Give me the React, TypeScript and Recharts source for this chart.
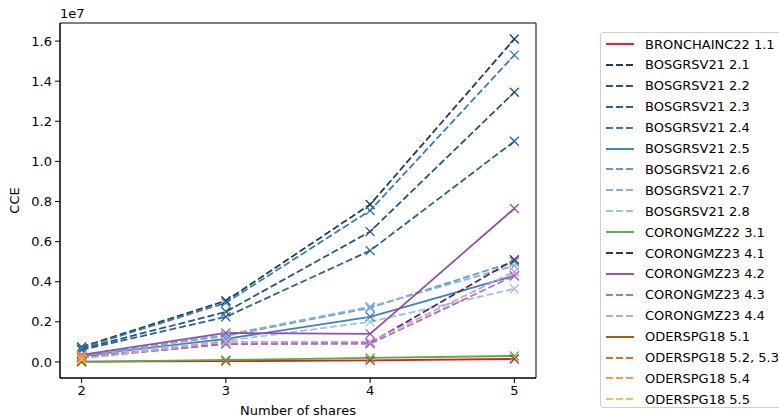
import React from 'react';
import { LineChart, Line, XAxis, YAxis, ReferenceArea } from 'recharts';

const shares = [2, 3, 4, 5];
const xTicks = [2, 3, 4, 5];
const yTicks = [0, 2e6, 4e6, 6e6, 8e6, 1e7, 1.2e7, 1.4e7, 1.6e7];

const bronchainc22_11 = [20000, 40000, 80000, 150000];
const bosgrsv21_21 = [750000, 3050000, 7850000, 16100000];
const bosgrsv21_22 = [650000, 2500000, 6500000, 13450000];
const bosgrsv21_23 = [600000, 2250000, 5550000, 11000000];
const bosgrsv21_24 = [700000, 2950000, 7550000, 15300000];
const bosgrsv21_25 = [300000, 1150000, 2250000, 4300000];
const bosgrsv21_26 = [350000, 1300000, 2700000, 5000000];
const bosgrsv21_27 = [350000, 1350000, 2750000, 4800000];
const bosgrsv21_28 = [300000, 1050000, 2000000, 3650000];
const corongmz22_31 = [0, 100000, 200000, 300000];
const corongmz23_41 = [250000, 900000, 950000, 5100000];
const corongmz23_42 = [350000, 1450000, 1400000, 7650000];
const corongmz23_43 = [200000, 900000, 900000, 4300000];
const corongmz23_44 = [200000, 1000000, 1000000, 4500000];
const oderspg18_51 = [50000];
const oderspg18_52 = [200000];
const oderspg18_54 = [300000];
const oderspg18_55 = [120000];

type S = { name: string; values: number[]; color: string; dash?: string };

const series: S[] = [
  { name: 'BRONCHAINC22 1.1', values: bronchainc22_11, color: '#e41a1c' },
  { name: 'BOSGRSV21 2.1', values: bosgrsv21_21, color: '#1e3d5c', dash: '7 3' },
  { name: 'BOSGRSV21 2.2', values: bosgrsv21_22, color: '#2a5478', dash: '7 3' },
  { name: 'BOSGRSV21 2.3', values: bosgrsv21_23, color: '#2b6192', dash: '7 3' },
  { name: 'BOSGRSV21 2.4', values: bosgrsv21_24, color: '#3a7ab6', dash: '7 3' },
  { name: 'BOSGRSV21 2.5', values: bosgrsv21_25, color: '#3f80bd' },
  { name: 'BOSGRSV21 2.6', values: bosgrsv21_26, color: '#5f9bd0', dash: '7 3' },
  { name: 'BOSGRSV21 2.7', values: bosgrsv21_27, color: '#86b3dc', dash: '7 3' },
  { name: 'BOSGRSV21 2.8', values: bosgrsv21_28, color: '#9dc1e3', dash: '7 3' },
  { name: 'CORONGMZ22 3.1', values: corongmz22_31, color: '#4daf4a' },
  { name: 'CORONGMZ23 4.1', values: corongmz23_41, color: '#4e2a57', dash: '7 3' },
  { name: 'CORONGMZ23 4.2', values: corongmz23_42, color: '#984ea3' },
  { name: 'CORONGMZ23 4.3', values: corongmz23_43, color: '#b06ec0', dash: '7 3' },
  { name: 'CORONGMZ23 4.4', values: corongmz23_44, color: '#c9a2d3', dash: '7 3' },
  { name: 'ODERSPG18 5.1', values: oderspg18_51, color: '#a0520f' },
  { name: 'ODERSPG18 5.2, 5.3', values: oderspg18_52, color: '#e2700f', dash: '7 3' },
  { name: 'ODERSPG18 5.4', values: oderspg18_54, color: '#ff9a3c', dash: '7 3' },
  { name: 'ODERSPG18 5.5', values: oderspg18_55, color: '#ffb56e', dash: '7 3' },
];

const FONT = 'DejaVu Sans, sans-serif';
const FS = 13;

const makeDot = (color: string) => (props: any) => {
  const { cx, cy, index } = props;
  if (cx == null || cy == null) return <g key={index} />;
  const r = 4.5;
  return (
    <path
      key={index}
      d={`M${cx - r},${cy - r}L${cx + r},${cy + r}M${cx - r},${cy + r}L${cx + r},${cy - r}`}
      stroke={color}
      strokeWidth={1.3}
      fill="none"
    />
  );
};

const LegendBox = () => (
  <div
    style={{
      position: 'absolute',
      left: 600,
      top: 32,
      width: 200,
      height: 376,
      border: '1px solid #d0d0d0',
      borderRadius: 3,
      background: 'rgba(255,255,255,0.8)',
      boxSizing: 'border-box',
      fontFamily: FONT,
      fontSize: FS,
      color: '#000',
    }}
  >
    {series.map((s, i) => (
      <div
        key={s.name}
        style={{ position: 'absolute', left: 0, top: 1 + i * 20.9, height: 20, display: 'flex', alignItems: 'center', whiteSpace: 'nowrap' }}
      >
        <svg width={44} height={20} style={{ display: 'block' }}>
          <line x1={5} x2={33} y1={10} y2={10} stroke={s.color} strokeWidth={1.9} strokeDasharray={s.dash} />
        </svg>
        <span>{s.name}</span>
      </div>
    ))}
  </div>
);

export default function App() {
  return (
    <div style={{ position: 'absolute', left: 0, top: 0, width: 779, height: 418, overflow: 'hidden', background: '#fff' }}>
      <LineChart width={779} height={418} margin={{ top: 23, right: 243, bottom: 0, left: 0 }}>
        <XAxis
          dataKey="x"
          type="number"
          domain={[1.85, 5.15]}
          ticks={xTicks}
          allowDataOverflow
          height={40}
          stroke="#000"
          tickSize={5}
          tickMargin={3}
          tick={{ fill: '#000', fontFamily: FONT, fontSize: FS }}
          label={{
            content: (p: any) => (
              <text x={p.viewBox.x + p.viewBox.width / 2} y={p.viewBox.y + 37} textAnchor="middle" fontFamily={FONT} fontSize={FS} fill="#000">
                Number of shares
              </text>
            ),
          }}
        />
        <YAxis
          type="number"
          domain={[-800000, 16900000]}
          ticks={yTicks}
          allowDataOverflow
          width={60}
          stroke="#000"
          tickSize={5}
          tickMargin={3}
          tickFormatter={(v: number) => (v / 1e7).toFixed(1)}
          tick={{ fill: '#000', fontFamily: FONT, fontSize: FS }}
          label={{
            content: (p: any) => (
              <text x={19} y={p.viewBox.y + p.viewBox.height / 2} textAnchor="middle" transform={`rotate(-90 19 ${p.viewBox.y + p.viewBox.height / 2})`} fontFamily={FONT} fontSize={FS} fill="#000">
                CCE
              </text>
            ),
          }}
        />
        <ReferenceArea
          x1={1.85}
          x2={5.15}
          y1={-800000}
          y2={16900000}
          fill="none"
          stroke="#000"
          strokeWidth={1}
          fillOpacity={0}
          label={{
            content: (p: any) => (
              <text x={p.viewBox.x} y={p.viewBox.y - 5} fontFamily={FONT} fontSize={FS} fill="#000">
                1e7
              </text>
            ),
          }}
        />
        {series.map((s) => (
          <Line
            key={s.name}
            data={s.values.map((v, i) => ({ x: shares[i], y: v }))}
            dataKey="y"
            name={s.name}
            stroke={s.color}
            strokeWidth={1.8}
            strokeDasharray={s.dash}
            dot={makeDot(s.color)}
            activeDot={false}
            isAnimationActive={false}
          />
        ))}
      </LineChart>
      <LegendBox />
    </div>
  );
}
